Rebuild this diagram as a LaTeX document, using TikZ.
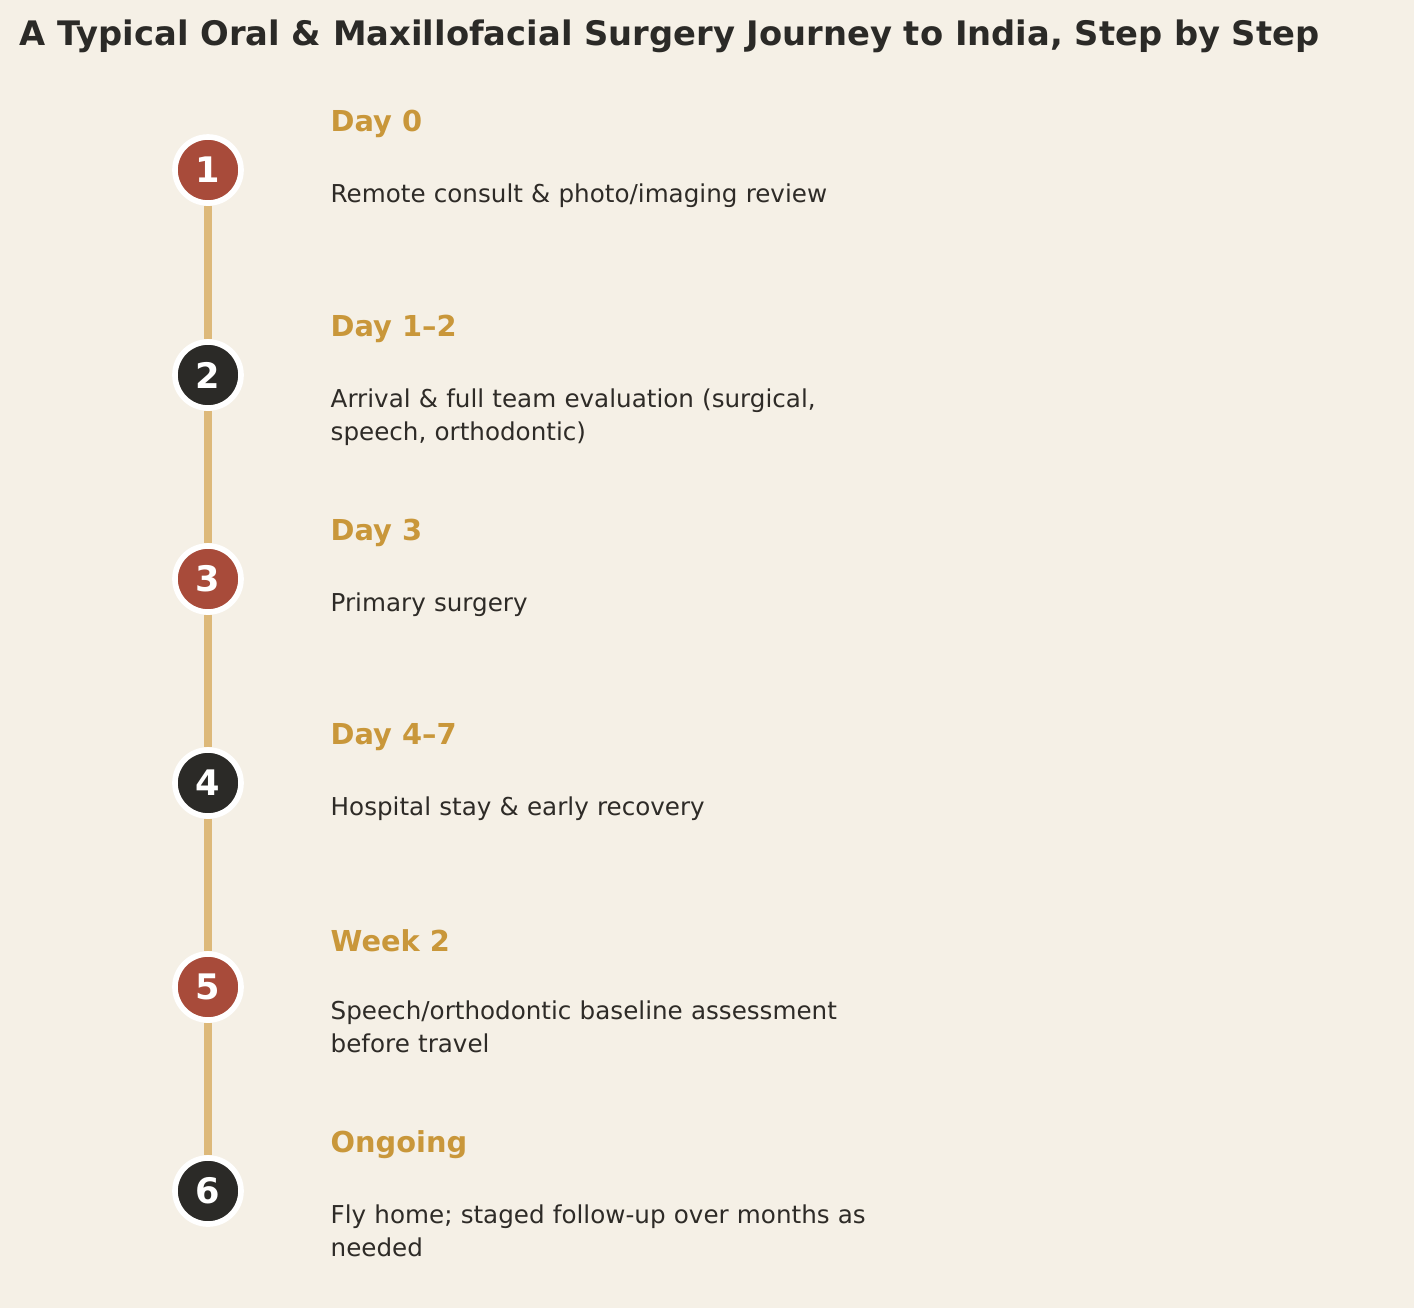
\documentclass[tikz,border=0pt]{standalone}
\usepackage{fontspec}
\setmainfont{DejaVu Sans}
\usetikzlibrary{positioning}
\definecolor{bgcol}{HTML}{F5F0E6}
\definecolor{redstep}{HTML}{A84B3A}
\definecolor{darkstep}{HTML}{2B2A27}
\definecolor{goldtxt}{HTML}{C9973A}
\definecolor{linecol}{HTML}{DDB97A}
\definecolor{bodytxt}{HTML}{2E2B27}
\tikzset{
  stepdot/.style={circle, draw=white, line width=1.6pt, minimum size=0.66cm, inner sep=0pt,
    text=white, font=\fontsize{10}{12}\selectfont\bfseries},
  when/.style={anchor=west, text=goldtxt, font=\fontsize{8.2}{10}\selectfont\bfseries, inner sep=0pt},
  what/.style={anchor=north west, text=bodytxt, font=\fontsize{7}{9.4}\selectfont,
    align=left, text width=5.45cm, inner sep=0pt},
}
\begin{document}
\begin{tikzpicture}[x=0.01cm, y=-0.01cm]
  \fill[bgcol] (0,0) rectangle (1414,1308);
  \useasboundingbox (0,0) rectangle (1414,1308);
  \node[anchor=west, text=darkstep, font=\fontsize{9.6}{12}\selectfont\bfseries, inner sep=0pt]
    (title) at (19,36) {A Typical Oral \& Maxillofacial Surgery Journey to India, Step by Step};
  % steps
  \foreach \i/\y/\c/\t/\d in {
      1/170/redstep/{Day 0}/{Remote consult \& photo/imaging review},
      2/375/darkstep/{Day 1–2}/{Arrival \& full team evaluation (surgical, speech, orthodontic)},
      3/579/redstep/{Day 3}/{Primary surgery},
      4/783/darkstep/{Day 4–7}/{Hospital stay \& early recovery},
      5/987/redstep/{Week 2}/{Speech/orthodontic baseline assessment before travel},
      6/1191/darkstep/{Ongoing}/{Fly home; staged follow-up over months as needed}} {
    \node[when] (when\i) at (330,\y-46) {\t};
    \node[what] (what\i) at (330,\y+13) {\d};
    \node[stepdot, fill=\c] (s\i) at (208,\y) {\i};
  }
  \foreach \i in {1,...,5} {
    \pgfmathtruncatemacro{\j}{\i+1}
    \draw[linecol, line width=2pt] (s\i) -- (s\j);
  }
\end{tikzpicture}
\end{document}
